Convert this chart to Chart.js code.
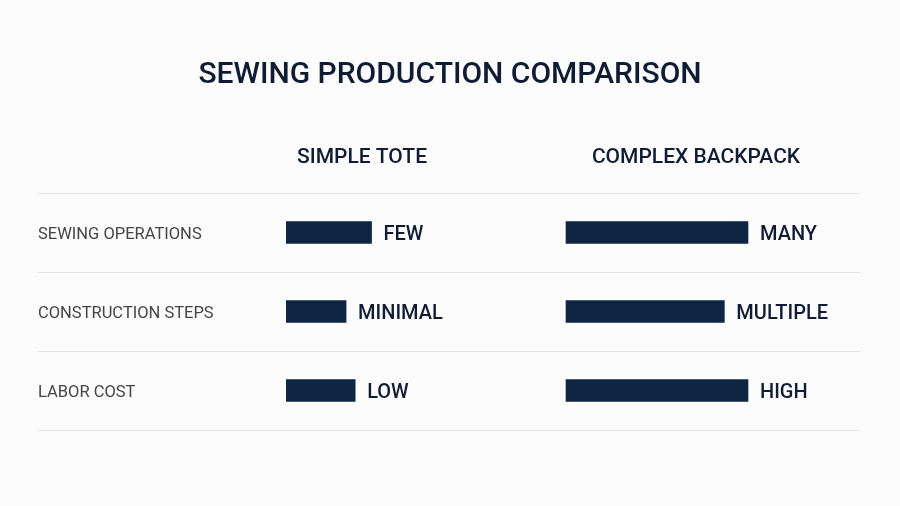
<!DOCTYPE html>
<html><head><meta charset="utf-8">
<script src="https://cdn.jsdelivr.net/npm/chart.js@4"></script>
<style>html,body{margin:0;background:#fcfcfc}#w{width:900px;height:506px}</style>
</head><body><div id="w"><canvas id="c"></canvas></div>
<script>
const title = "SEWING PRODUCTION COMPARISON";
const columns = ["SIMPLE TOTE", "COMPLEX BACKPACK"];
const categories = ["SEWING OPERATIONS", "CONSTRUCTION STEPS", "LABOR COST"];
const toteValues = [47, 33, 38];
const toteLabels = ["FEW", "MINIMAL", "LOW"];
const backpackValues = [100, 87, 100];
const backpackLabels = ["MANY", "MULTIPLE", "HIGH"];

const navy = "#0f2544";
const deco = {
  id: "deco",
  afterDraw(chart) {
    const c = chart.ctx, y = chart.scales.y, xa = chart.scales.x, xb = chart.scales.x2;
    c.save();
    c.fillStyle = "#101c33"; c.textAlign = "center"; c.textBaseline = "middle";
    c.font = "500 30px Roboto";
    c.fillText(title, 450, 75);
    c.font = "500 21px Roboto";
    c.fillText(columns[0], 362, 158);
    c.fillText(columns[1], 696, 158);
    c.strokeStyle = "#e4e4e4"; c.lineWidth = 1;
    for (let i = 0; i <= categories.length; i++) {
      const py = Math.round(y.getPixelForValue(i - 0.5)) + 0.5;
      c.beginPath(); c.moveTo(38, py); c.lineTo(860, py); c.stroke();
    }
    categories.forEach((cat, i) => {
      const py = y.getPixelForValue(i) + 2;
      c.textAlign = "left"; c.fillStyle = "#444"; c.font = "16.5px Roboto";
      c.fillText(cat, 38, py);
      c.fillStyle = "#101c33"; c.font = "500 20px Roboto";
      c.fillText(toteLabels[i], xa.getPixelForValue(toteValues[i]) + 12, py);
      c.fillText(backpackLabels[i], xb.getPixelForValue(backpackValues[i]) + 12, py);
    });
    c.restore();
  }
};
const unit = 1.82, width = 562;
const maxV = width / unit, off = 280 / unit;
new Chart(document.getElementById("c"), {
  type: "bar",
  data: { labels: categories, datasets: [
    { data: toteValues, xAxisID: "x", backgroundColor: navy, barThickness: 22, grouped: false },
    { data: backpackValues, xAxisID: "x2", backgroundColor: navy, barThickness: 22, grouped: false }
  ]},
  options: {
    indexAxis: "y", responsive: true, maintainAspectRatio: false, animation: false,
    layout: { padding: { left: 286, right: 900 - 286 - width, top: 193, bottom: 76 } },
    plugins: { legend: { display: false }, tooltip: { enabled: false } },
    scales: {
      y: { display: false },
      x: { display: false, min: 0, max: maxV },
      x2: { display: false, min: -off, max: maxV - off }
    }
  },
  plugins: [deco]
});
</script></body></html>
